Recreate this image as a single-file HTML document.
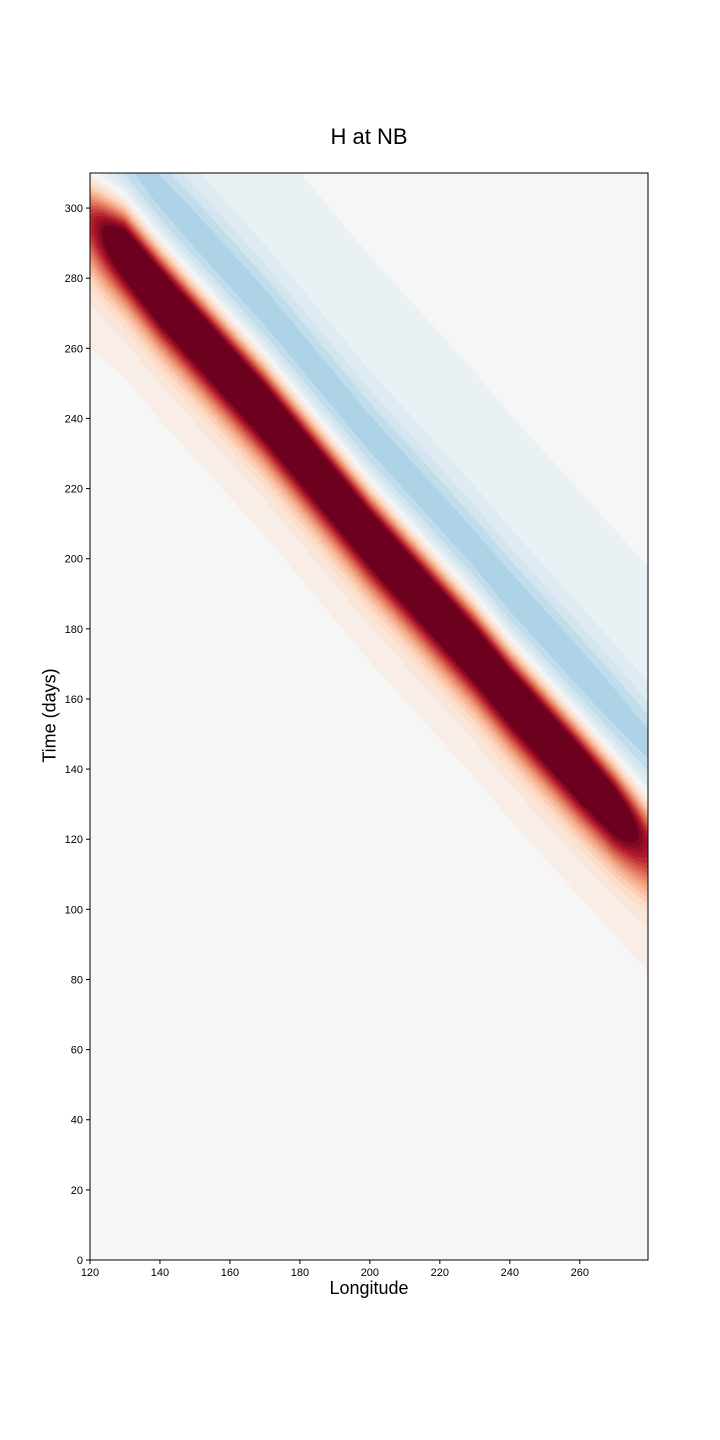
<!DOCTYPE html>
<html><head><meta charset="utf-8"><style>
body{margin:0;background:#fff;width:720px;height:1440px;position:relative;font-family:"Liberation Sans",sans-serif;overflow:hidden}
.t{position:absolute;color:#000}
</style></head><body>
<div class="t" style="left:0;width:738px;top:124px;text-align:center;font-size:22px">H at NB</div>
<canvas id="c" width="558" height="1087" style="position:absolute;left:90px;top:173px"></canvas>
<svg id="ax" width="720" height="1440" style="position:absolute;left:0;top:0"></svg>
<div class="t" style="left:269px;width:200px;top:1278px;text-align:center;font-size:18px">Longitude</div>
<div class="t" style="left:-50px;width:200px;top:705px;text-align:center;font-size:18px;transform:rotate(-90deg)">Time (days)</div>
<script>
const lons=[120,130,140,150,160,170,180,190,200,210,220,230,240,250,260,270,280];
const crest=[296,288,276,265,254,243,231,219,207,196,185,174,162,151,140,129,118];
const redAmp=[0.75,1.4,1.5,1.5,1.5,1.5,1.5,1.5,1.5,1.5,1.5,1.5,1.5,1.5,1.5,1.35,0.8];
const blueAmp=[0.25,0.27,0.29,0.3,0.3,0.3,0.3,0.3,0.3,0.3,0.3,0.3,0.31,0.31,0.31,0.3,0.28];
const xTicks=[120,140,160,180,200,220,240,260];
const yTicks=[0,20,40,60,80,100,120,140,160,180,200,220,240,260,280,300];
const X0=90,X1=648,Y0=1260,Y1=173,LMIN=120,LMAX=279.5,TMIN=0,TMAX=310;
const xs=v=>X0+(v-LMIN)/(LMAX-LMIN)*(X1-X0);
const ys=v=>Y0-(v-TMIN)/(TMAX-TMIN)*(Y0-Y1);
function interp(arr,l){let i=Math.min(Math.max(Math.floor((l-lons[0])/10),0),lons.length-2);let f=(l-lons[i])/10;return arr[i]*(1-f)+arr[i+1]*f;}
const stops=[[-1,[5,48,97]],[-.8,[33,102,172]],[-.6,[67,147,195]],[-.4,[146,197,222]],[-.2,[209,229,240]],[0,[246,246,246]],[.2,[253,219,199]],[.4,[244,165,130]],[.6,[214,96,77]],[.8,[178,24,43]],[1,[110,0,31]]];
function col(v){v=Math.max(-1,Math.min(1,v));v=Math.round(v*16)/16;for(let i=0;i<stops.length-1;i++){if(v<=stops[i+1][0]+1e-9){const f=(v-stops[i][0])/0.2;const a=stops[i][1],b=stops[i+1][1];return [a[0]+(b[0]-a[0])*f,a[1]+(b[1]-a[1])*f,a[2]+(b[2]-a[2])*f];}}return stops[10][1];}
function g(z){return Math.exp(-z*z);}
const cv=document.getElementById('c'),ctx=cv.getContext('2d');
const W=cv.width,H=cv.height,img=ctx.createImageData(W,H);
for(let px=0;px<W;px++){const l=LMIN+(px+0.5)/W*(LMAX-LMIN);const c=interp(crest,l),ra=interp(redAmp,l),ba=interp(blueAmp,l);
 for(let py=0;py<H;py++){const t=TMAX-(py+0.5)/H*(TMAX-TMIN);const d=t-c;
  let v=ra*g(d/(d<0?14:10));
  v+=0.05*g((d+27)/13);
  v-=ba*g((d-28)/13);
  v-=0.06*g((d-55)/30);
  const k=(py*W+px)*4,cc=col(v);img.data[k]=cc[0];img.data[k+1]=cc[1];img.data[k+2]=cc[2];img.data[k+3]=255;}}
ctx.putImageData(img,0,0);
const svg=document.getElementById('ax'),NS='http://www.w3.org/2000/svg';
function mk(tag,at,txt){const e=document.createElementNS(NS,tag);for(const k in at)e.setAttribute(k,at[k]);if(txt!==undefined)e.textContent=txt;svg.appendChild(e);return e;}
const fr=mk('rect',{x:X0,y:Y1,width:X1-X0,height:Y0-Y1,fill:'none',stroke:'#000','stroke-width':1});


xTicks.forEach(v=>{const x=xs(v);
 const ln=mk('line',{x1:x,x2:x,y1:Y0,y2:Y0+4,stroke:'#000'});
 
 
 const tx=mk('text',{x:x,y:Y0+16,'text-anchor':'middle','font-size':11,'font-family':'Liberation Sans'},v);
 
 });
yTicks.forEach(v=>{const y=ys(v);
 const ln=mk('line',{x1:X0-4,x2:X0,y1:y,y2:y,stroke:'#000'});
 
 
 const tx=mk('text',{x:X0-7,y:y+4,'text-anchor':'end','font-size':11,'font-family':'Liberation Sans'},v);
 
 });
</script>
</body></html>
